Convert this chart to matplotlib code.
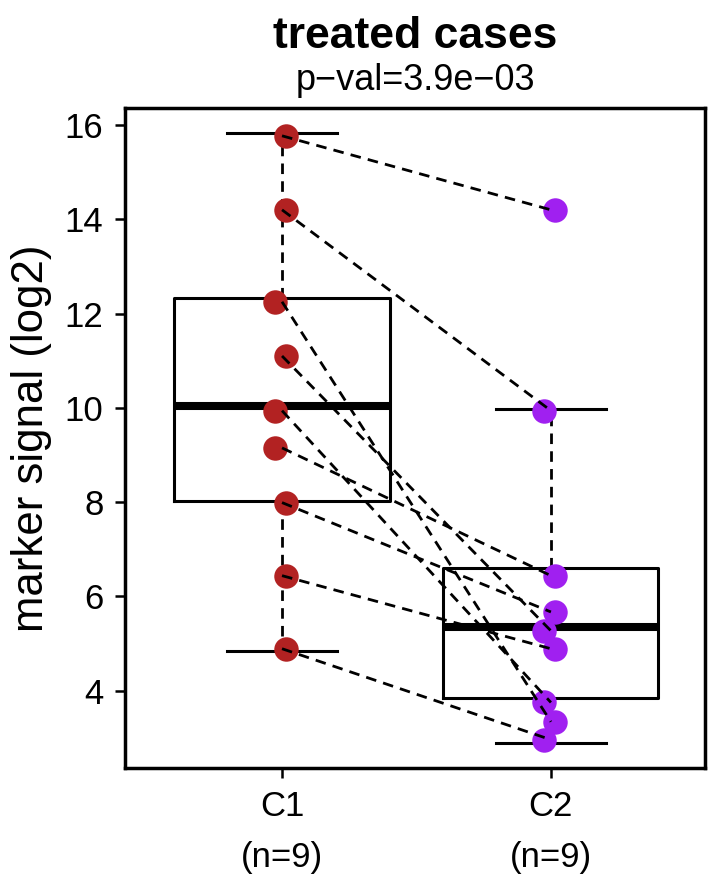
import matplotlib
matplotlib.use("Agg")
import matplotlib.pyplot as plt
import matplotlib.transforms as mtransforms

plt.rcParams['font.family'] = ['Liberation Sans', 'DejaVu Sans']

# values (paired by the dashed lines)
groups = ['C1', 'C2']
c1 = [15.77, 14.20, 12.25, 11.10, 9.94, 9.15, 7.99, 6.44, 4.89]
c2 = [14.20, 9.94, 3.34, 5.27, 3.75, 6.44, 5.67, 4.89, 2.96]
# horizontal jitter of the dots
c1_jit = [0.015, 0.015, -0.026, 0.015, -0.026, -0.026, 0.015, 0.015, 0.015]
c2_jit = [0.015, -0.026, 0.015, -0.026, -0.026, 0.015, 0.015, 0.015, -0.026]

# box summaries as drawn
box_stats = [
    dict(whislo=4.84, q1=8.03, med=10.03, q3=12.33, whishi=15.84, fliers=[]),
    dict(whislo=2.89, q1=3.85, med=5.36, q3=6.60, whishi=9.98, fliers=[]),
]

title = 'treated cases'
subtitle = 'p\u2212val=3.9e\u221203'
ylab = 'marker signal (log2)'

red = '#B22222'
purple = '#A020F0'
dash = (0, (3.8, 2.6))

fig = plt.figure(figsize=(7.08, 8.81), dpi=100)
ax = fig.add_axes([125 / 708, 1 - 768 / 881, 580 / 708, 660 / 881])

ax.bxp(box_stats, positions=[1, 2], widths=0.8, showfliers=False,
       capwidths=0.41,
       boxprops=dict(color='black', lw=2.2),
       medianprops=dict(color='black', lw=5.8, solid_capstyle='butt'),
       whiskerprops=dict(color='black', lw=2.0, linestyle=dash),
       capprops=dict(color='black', lw=2.2),
       zorder=1)

x1 = [1 + j for j in c1_jit]
x2 = [2 + j for j in c2_jit]
ax.scatter(x1, c1, s=310, color=red, linewidths=0, zorder=2)
ax.scatter(x2, c2, s=310, color=purple, linewidths=0, zorder=2)

for a, b in zip(c1, c2):
    ax.plot([1, 2], [a, b], color='black', lw=2.0, linestyle=dash, zorder=3)

ax.set_xlim(0.416, 2.573)
ax.set_ylim(2.36, 16.36)
ax.set_yticks([4, 6, 8, 10, 12, 14, 16])
ax.set_xticks([1, 2])
ax.set_xticklabels(groups)
ax.tick_params(axis='y', labelsize=25, length=7.5, width=1.8, pad=8)
ax.tick_params(axis='x', labelsize=25, length=7.5, width=1.8, pad=8)
for sp in ax.spines.values():
    sp.set_linewidth(2.5)

ax.set_ylabel(ylab, fontsize=31.5, labelpad=9)

trans = mtransforms.blended_transform_factory(ax.transData, fig.transFigure)
for pos, vals in zip([1, 2], [c1, c2]):
    ax.text(pos, 1 - 857 / 881, '(n=%d)' % len(vals), transform=trans,
            ha='center', va='center', fontsize=25)

fig.text(415 / 708, 1 - 37 / 881, title, ha='center', va='center',
         fontsize=32, fontweight='bold')
fig.text(415 / 708, 1 - 81 / 881, subtitle, ha='center', va='center',
         fontsize=26)

fig.savefig('out.png', dpi=100)
